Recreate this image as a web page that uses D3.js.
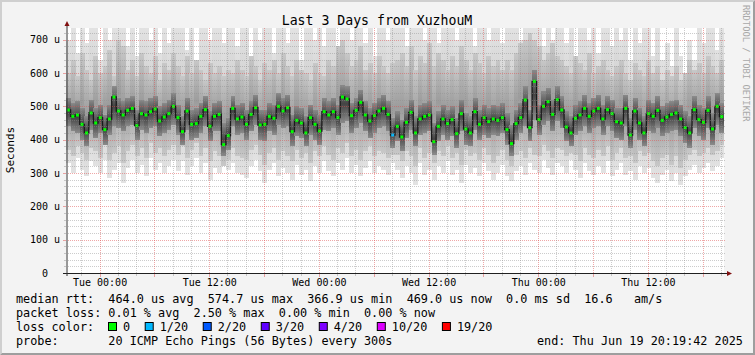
<!DOCTYPE html>
<html>
<head>
<meta charset="utf-8">
<script src="https://cdn.jsdelivr.net/npm/d3@7"></script>
<style>
  html, body { margin: 0; padding: 0; background: #f3f3f3; }
  svg text { font-family: "DejaVu Sans Mono", monospace; white-space: pre; }
</style>
</head>
<body>
<svg id="chart" width="755" height="355"></svg>
<script>
// Time window: last 3 days, 30 minute buckets
var startTime = new Date(Date.UTC(2025, 5, 16, 20, 19, 42));
var endTime = new Date(Date.UTC(2025, 5, 19, 20, 19, 42));
var stepMinutes = 30;

// median rtt per bucket (us)
var medianRtt = [
  489, 470, 474, 446, 420, 480, 450, 466, 430, 462, 528, 486,
  474, 488, 494, 442, 478, 474, 484, 492, 456, 468, 478, 500,
  466, 424, 486, 446, 448, 470, 490, 440, 470, 476, 385, 412,
  494, 462, 468, 446, 476, 496, 444, 446, 470, 464, 500, 486,
  496, 424, 458, 450, 420, 466, 446, 426, 484, 474, 484, 466,
  528, 522, 472, 488, 512, 474, 456, 472, 486, 494, 476, 414,
  440, 408, 452, 482, 420, 462, 470, 474, 394, 440, 462, 448,
  460, 418, 478, 432, 420, 484, 446, 466, 454, 462, 458, 466,
  430, 388, 448, 466, 519, 436, 575, 460, 500, 514, 476, 520,
  489, 438, 420, 464, 474, 494, 470, 486, 494, 462, 490, 478,
  454, 450, 494, 414, 486, 450, 420, 478, 470, 488, 458, 468,
  476, 480, 462, 436, 420, 490, 460, 452, 488, 432, 500, 469
];

// smoke: spread of the 20 pings per bucket (us)
var smokeMin = [
  330, 300, 345, 310, 290, 335, 320, 300, 340, 285, 310, 330,
  270, 315, 340, 300, 325, 290, 345, 310, 330, 300, 320, 340,
  305, 335, 295, 320, 345, 300, 330, 280, 315, 300, 340, 310,
  330, 300, 295, 285, 320, 340, 305, 270, 310, 330, 290, 315,
  300, 280, 325, 295, 310, 275, 320, 300, 335, 305, 290, 330,
  310, 345, 300, 325, 290, 315, 335, 300, 320, 310, 295, 330,
  310, 285, 320, 300, 265, 330, 295, 310, 280, 320, 300, 335,
  295, 310, 270, 325, 300, 315, 290, 330, 305, 280, 300, 325,
  290, 275, 305, 320, 295, 330, 310, 300, 340, 315, 295, 330,
  320, 300, 340, 310, 285, 330, 305, 295, 320, 300, 335, 290,
  310, 330, 295, 305, 280, 320, 300, 315, 285, 270, 295, 310,
  275, 300, 265, 290, 310, 325, 300, 315, 330, 305, 320, 345
];
var smokeLowMid = [
  370, 350, 380, 360, 340, 375, 365, 345, 385, 340, 360, 380,
  330, 365, 385, 350, 375, 345, 390, 360, 375, 350, 370, 385,
  355, 380, 345, 370, 390, 350, 375, 335, 365, 350, 320, 340,
  375, 350, 345, 340, 370, 385, 355, 325, 360, 375, 340, 365,
  350, 335, 370, 345, 360, 330, 365, 350, 380, 355, 340, 375,
  360, 390, 350, 370, 340, 365, 380, 350, 365, 360, 345, 355,
  355, 335, 365, 350, 320, 375, 345, 360, 330, 365, 350, 380,
  345, 360, 325, 370, 350, 360, 340, 375, 355, 330, 350, 370,
  340, 320, 355, 365, 345, 375, 355, 350, 385, 365, 345, 375,
  370, 350, 360, 355, 335, 375, 355, 345, 370, 350, 380, 340,
  360, 375, 345, 350, 330, 365, 350, 360, 335, 320, 345, 355,
  325, 350, 315, 340, 355, 370, 350, 360, 375, 355, 365, 385
];
var smokeLowCore = [
  440, 425, 420, 400, 380, 430, 405, 420, 385, 415, 440, 435,
  425, 440, 445, 400, 430, 420, 435, 440, 410, 420, 430, 445,
  415, 385, 430, 400, 405, 420, 440, 395, 425, 425, 350, 370,
  440, 415, 420, 400, 425, 445, 400, 395, 425, 415, 445, 435,
  440, 380, 410, 405, 380, 415, 400, 385, 430, 425, 435, 415,
  450, 455, 420, 435, 450, 425, 405, 420, 435, 440, 425, 375,
  395, 365, 405, 430, 380, 415, 420, 425, 355, 395, 415, 400,
  410, 375, 425, 385, 380, 430, 400, 415, 405, 415, 410, 420,
  385, 350, 400, 420, 440, 395, 460, 415, 445, 455, 425, 455,
  435, 395, 380, 415, 425, 440, 420, 435, 440, 415, 440, 425,
  405, 400, 440, 375, 430, 400, 380, 425, 420, 435, 410, 420,
  425, 430, 410, 390, 375, 435, 410, 400, 435, 385, 445, 420
];
var smokeHighCore = [
  525, 510, 515, 495, 470, 520, 495, 505, 475, 505, 560, 525,
  515, 525, 530, 490, 520, 515, 525, 530, 500, 510, 520, 540,
  505, 470, 525, 490, 495, 510, 530, 485, 510, 515, 450, 465,
  530, 505, 510, 490, 515, 535, 490, 490, 510, 505, 540, 525,
  535, 475, 500, 495, 470, 505, 490, 475, 525, 515, 525, 505,
  565, 560, 510, 525, 550, 515, 495, 510, 525, 535, 515, 465,
  485, 460, 495, 520, 470, 505, 510, 515, 450, 485, 505, 490,
  500, 465, 520, 480, 470, 525, 490, 505, 495, 505, 500, 510,
  480, 445, 490, 510, 560, 490, 610, 505, 545, 555, 520, 560,
  530, 485, 470, 505, 515, 535, 510, 525, 535, 505, 530, 520,
  495, 495, 535, 465, 525, 495, 470, 520, 510, 530, 500, 510,
  515, 520, 505, 485, 470, 530, 505, 495, 530, 480, 540, 510
];
var smokeHighMid = [
  600, 640, 590, 660, 610, 580, 650, 600, 620, 670, 590, 700,
  680, 610, 640, 590, 660, 620, 600, 650, 580, 630, 610, 660,
  620, 590, 650, 600, 640, 610, 580, 630, 600, 620, 590, 610,
  600, 640, 610, 590, 650, 620, 580, 630, 610, 640, 600, 660,
  620, 590, 640, 610, 600, 580, 630, 600, 590, 640, 620, 680,
  700, 660, 620, 640, 680, 610, 630, 600, 650, 620, 600, 630,
  640, 660, 620, 680, 610, 650, 630, 690, 620, 660, 640, 610,
  650, 620, 680, 640, 610, 660, 630, 600, 650, 620, 640, 610,
  640, 610, 660, 690, 700, 720, 700, 680, 640, 660, 690, 650,
  640, 620, 600, 650, 630, 610, 660, 600, 620, 640, 610, 590,
  620, 640, 600, 580, 630, 610, 590, 640, 600, 620, 580, 610,
  590, 620, 580, 600, 640, 610, 630, 600, 650, 620, 600, 640
];
var smokeMax = [
  700, 735, 660, 735, 690, 735, 735, 640, 735, 700, 735, 735,
  735, 680, 735, 650, 735, 735, 700, 735, 660, 735, 690, 735,
  735, 735, 670, 735, 640, 735, 735, 700, 735, 735, 690, 735,
  735, 680, 735, 735, 650, 735, 700, 735, 735, 660, 735, 735,
  690, 735, 735, 640, 735, 735, 700, 735, 680, 735, 735, 660,
  735, 735, 700, 735, 735, 690, 735, 650, 735, 735, 700, 735,
  735, 735, 680, 735, 735, 735, 700, 735, 735, 690, 735, 735,
  735, 700, 735, 735, 735, 680, 735, 735, 700, 735, 735, 690,
  735, 735, 735, 700, 735, 735, 735, 735, 680, 735, 700, 735,
  735, 690, 735, 650, 735, 735, 700, 735, 660, 735, 735, 680,
  735, 700, 735, 640, 735, 690, 735, 735, 650, 735, 640, 690,
  620, 735, 650, 600, 700, 640, 735, 690, 735, 735, 670, 735
];

// buckets with packet loss (lost pings out of 20)
var lossBuckets = [71];
var lossCounts = [1];

// axes
var yTicks = [0, 100, 200, 300, 400, 500, 600, 700];
var xTickTimes = ["2025-06-17T00:00:00Z", "2025-06-17T12:00:00Z", "2025-06-18T00:00:00Z",
  "2025-06-18T12:00:00Z", "2025-06-19T00:00:00Z", "2025-06-19T12:00:00Z"];
var xTickLabels = ["Tue 00:00", "Tue 12:00", "Wed 00:00", "Wed 12:00", "Thu 00:00", "Thu 12:00"];

// legend
var lossLegendLabels = ["0", "1/20", "2/20", "3/20", "4/20", "10/20", "19/20"];
var lossLegendLimits = [0, 1, 2, 3, 4, 10, 19];
var lossLegendColors = ["#00ff00", "#00b8ff", "#0059ff", "#5e00ff", "#7e00ff", "#dd00ff", "#ff0000"];
var legendLines = [
  "median rtt:  464.0 us avg  574.7 us max  366.9 us min  469.0 us now  0.0 ms sd  16.6   am/s",
  "packet loss: 0.01 % avg  2.50 % max  0.00 % min  0.00 % now",
  "loss color:",
  "probe:       20 ICMP Echo Pings (56 Bytes) every 300s"
];
var endLabel = "end: Thu Jun 19 20:19:42 2025";
var titleText = "Last 3 Days from XuzhouM";

// ---------------------------------------------------------------
var W = 755, H = 355;
var plot = { left: 66, right: 724, top: 28, bottom: 273 };

var svg = d3.select("#chart").attr("xml:space", "preserve");

var xScale = d3.scaleUtc().domain([startTime, endTime]).range([plot.left, plot.right]);
var yScale = d3.scaleLinear().domain([0, 735]).range([plot.bottom, plot.top]);

// background + bevel
svg.append("rect").attr("width", W).attr("height", H).attr("fill", "#f3f3f3");
svg.append("polygon")
  .attr("points", [[0, 0], [W, 0], [W - 2, 2], [2, 2], [2, H - 2], [0, H]].join(" "))
  .attr("fill", "#cfcfcf");
svg.append("polygon")
  .attr("points", [[W, 0], [W, H], [0, H], [2, H - 2], [W - 2, H - 2], [W - 2, 2]].join(" "))
  .attr("fill", "#9e9e9e");

var defs = svg.append("defs");
defs.append("clipPath").attr("id", "plot-clip")
  .append("rect")
  .attr("x", plot.left).attr("y", plot.top)
  .attr("width", plot.right - plot.left).attr("height", plot.bottom - plot.top);

function addGradient(id, edge, mid) {
  var g = defs.append("linearGradient").attr("id", id)
    .attr("x1", 0).attr("y1", 0).attr("x2", 0).attr("y2", 1);
  g.append("stop").attr("offset", "0%").attr("stop-color", edge);
  g.append("stop").attr("offset", "50%").attr("stop-color", mid);
  g.append("stop").attr("offset", "100%").attr("stop-color", edge);
}
addGradient("g-outer", "#e2e2e2", "#cdcdcd");
addGradient("g-mid", "#c8c8c8", "#9c9c9c");
addGradient("g-core", "#8a8a8a", "#444444");

// dotted grid patterns (1px on, 1px off)
var gridMinor = "rgba(143,143,143,0.45)";
var gridMajor = "rgba(224,80,80,0.5)";
function addDots(id, color, horizontal) {
  var p = defs.append("pattern").attr("id", id)
    .attr("patternUnits", "userSpaceOnUse")
    .attr("width", horizontal ? 2 : 1).attr("height", horizontal ? 1 : 2);
  p.append("rect").attr("width", 1).attr("height", 1).attr("fill", color);
}
addDots("dot-h-minor", gridMinor, true);
addDots("dot-h-major", gridMajor, true);
addDots("dot-v-minor", gridMinor, false);
addDots("dot-v-major", gridMajor, false);

// canvas
svg.append("rect")
  .attr("x", plot.left).attr("y", plot.top)
  .attr("width", plot.right - plot.left).attr("height", plot.bottom - plot.top)
  .attr("fill", "#ffffff");

// buckets
var buckets = medianRtt.map(function(m, i) {
  var t0 = d3.utcMinute.offset(startTime, i * stepMinutes);
  var t1 = d3.utcMinute.offset(startTime, (i + 1) * stepMinutes);
  var li = lossBuckets.indexOf(i);
  return { i: i, t0: t0, t1: t1, median: m, loss: li < 0 ? 0 : lossCounts[li] };
});

var plotG = svg.append("g").attr("clip-path", "url(#plot-clip)");

// smoke
var bands = [
  { lo: smokeMin, hi: smokeMax, fill: "url(#g-outer)" },
  { lo: smokeLowMid, hi: smokeHighMid, fill: "url(#g-mid)" },
  { lo: smokeLowCore, hi: smokeHighCore, fill: "url(#g-core)" }
];
bands.forEach(function(band, bi) {
  plotG.append("g")
    .attr("class", "smoke smoke-" + bi)
    .selectAll("rect")
    .data(buckets)
    .enter()
    .append("rect")
    .attr("x", d => xScale(d.t0))
    .attr("width", d => xScale(d.t1) - xScale(d.t0) + 0.4)
    .attr("y", d => yScale(band.hi[d.i]))
    .attr("height", d => yScale(band.lo[d.i]) - yScale(band.hi[d.i]))
    .attr("fill", band.fill)
    .attr("shape-rendering", "crispEdges");
});

// median line
var medianLine = d3.line()
  .x(d => (xScale(d.t0) + xScale(d.t1)) / 2)
  .y(d => yScale(d.median))
  .curve(d3.curveStep);

plotG.append("path")
  .datum(buckets)
  .attr("d", medianLine)
  .attr("fill", "none")
  .attr("stroke", "#1a1a1a")
  .attr("stroke-width", 1.3);

var lossColor = function(n) {
  var idx = 0;
  lossLegendLimits.forEach(function(lim, k) { if (n >= lim) idx = k; });
  return lossLegendColors[idx];
};

plotG.append("g")
  .attr("class", "median")
  .selectAll("rect")
  .data(buckets)
  .enter()
  .append("rect")
  .attr("x", d => (xScale(d.t0) + xScale(d.t1)) / 2 - 1.5)
  .attr("y", d => yScale(d.median) - 1.5)
  .attr("width", 3)
  .attr("height", 3)
  .attr("fill", d => lossColor(d.loss));

// grid
var gridG = svg.append("g").attr("class", "grid").attr("shape-rendering", "crispEdges");
var yMinor = d3.range(20, 735, 20).filter(d => d % 100 !== 0);
var xMinor = d3.utcHour.every(2).range(startTime, endTime).filter(d => d.getUTCHours() % 6 !== 0);
var xMajor = d3.utcHour.every(6).range(startTime, endTime);
var ypx = d => Math.round(yScale(d));
var xpx = d => Math.round(xScale(d));

function hLines(data, fill) {
  gridG.append("g").selectAll("rect").data(data).enter().append("rect")
    .attr("x", plot.left + 1).attr("width", plot.right - plot.left)
    .attr("y", ypx).attr("height", 1)
    .attr("fill", fill);
}
function vLines(data, fill) {
  gridG.append("g").selectAll("rect").data(data).enter().append("rect")
    .attr("x", xpx).attr("width", 1)
    .attr("y", plot.top).attr("height", plot.bottom - plot.top)
    .attr("fill", fill);
}
hLines(yMinor, "url(#dot-h-minor)");
hLines(yTicks.slice(1), "url(#dot-h-major)");
vLines(xMinor, "url(#dot-v-minor)");
vLines(xMajor, "url(#dot-v-major)");

// axis tick marks
gridG.append("g").selectAll("rect").data(yMinor).enter().append("rect")
  .attr("x", plot.left - 2).attr("width", 2).attr("y", ypx).attr("height", 1)
  .attr("fill", gridMinor);
gridG.append("g").selectAll("rect").data(yTicks.slice(1)).enter().append("rect")
  .attr("x", plot.left - 3).attr("width", 3).attr("y", ypx).attr("height", 1)
  .attr("fill", gridMajor);
gridG.append("g").selectAll("rect").data(xMinor).enter().append("rect")
  .attr("x", xpx).attr("width", 1).attr("y", plot.bottom + 1).attr("height", 2)
  .attr("fill", gridMinor);
gridG.append("g").selectAll("rect").data(xMajor).enter().append("rect")
  .attr("x", xpx).attr("width", 1).attr("y", plot.bottom + 1).attr("height", 3)
  .attr("fill", gridMajor);

// axis lines + arrows
svg.append("line")
  .attr("x1", plot.left - 3).attr("x2", plot.right + 4)
  .attr("y1", plot.bottom + 0.5).attr("y2", plot.bottom + 0.5)
  .attr("stroke", "#202020");
svg.append("line")
  .attr("x1", plot.left + 1).attr("x2", plot.left + 1)
  .attr("y1", plot.bottom + 3).attr("y2", plot.top - 4)
  .attr("stroke", "#303030");
svg.append("polygon")
  .attr("points", [[plot.right + 3, plot.bottom - 2], [plot.right + 8, plot.bottom + 0.5], [plot.right + 3, plot.bottom + 3]].join(" "))
  .attr("fill", "#801010");
svg.append("polygon")
  .attr("points", [[plot.left - 1.5, plot.top - 2], [plot.left + 1, plot.top - 7], [plot.left + 3.5, plot.top - 2]].join(" "))
  .attr("fill", "#801010");

// axis labels
var yAxis = d3.axisLeft(yScale)
  .tickValues(yTicks)
  .tickSize(0)
  .tickPadding(6)
  .tickFormat(d => (d === 0 ? "0  " : d + " u"));
var yAxisG = svg.append("g")
  .attr("transform", "translate(" + plot.left + ",0)")
  .call(yAxis);
yAxisG.select(".domain").remove();
yAxisG.selectAll("text")
  .attr("font-family", "DejaVu Sans Mono")
  .attr("font-size", "10px")
  .attr("fill", "#000");

var xAxis = d3.axisBottom(xScale)
  .tickValues(xTickTimes.map(s => new Date(s)))
  .tickSize(0)
  .tickPadding(6)
  .tickFormat((d, i) => xTickLabels[i]);
var xAxisG = svg.append("g")
  .attr("transform", "translate(0," + plot.bottom + ")")
  .call(xAxis);
xAxisG.select(".domain").remove();
xAxisG.selectAll("text")
  .attr("font-family", "DejaVu Sans Mono")
  .attr("font-size", "10px")
  .attr("fill", "#000");

// title + side texts
svg.append("text")
  .attr("x", 377).attr("y", 24.5)
  .attr("text-anchor", "middle")
  .attr("font-size", "13.2px")
  .attr("fill", "#000")
  .text(titleText);

svg.append("text")
  .attr("transform", "translate(14,150) rotate(-90)")
  .attr("text-anchor", "middle")
  .attr("font-size", "11px")
  .attr("fill", "#000")
  .text("Seconds");

svg.append("text")
  .attr("transform", "translate(743,5) rotate(90)")
  .attr("font-size", "8.8px")
  .attr("fill", "#a8a8a8")
  .text("RRDTOOL / TOBI OETIKER");

// legend
var legendFont = 11.8;
var legendBase = [303, 317, 331, 345];
legendLines.forEach(function(line, i) {
  svg.append("text")
    .attr("x", 16).attr("y", legendBase[i])
    .attr("font-size", legendFont + "px")
    .attr("fill", "#000")
    .text(line);
});

var lx = 108;
lossLegendLabels.forEach(function(lbl, k) {
  svg.append("rect")
    .attr("x", lx + 0.5).attr("y", 322.5)
    .attr("width", 8).attr("height", 8)
    .attr("fill", lossLegendColors[k])
    .attr("stroke", "#000");
  var t = svg.append("text")
    .attr("x", lx + 15).attr("y", legendBase[2])
    .attr("font-size", legendFont + "px")
    .attr("fill", "#000")
    .text(lbl);
  lx = lx + 15 + t.node().getComputedTextLength() + 14.6;
});

svg.append("text")
  .attr("x", 537).attr("y", legendBase[3])
  .attr("font-size", legendFont + "px")
  .attr("fill", "#000")
  .text(endLabel);
</script>
</body>
</html>
